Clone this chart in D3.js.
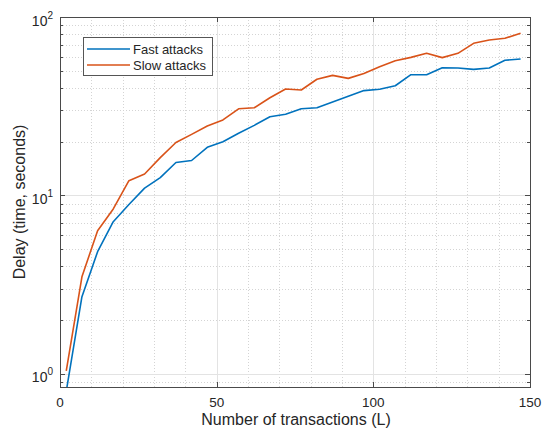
<!DOCTYPE html>
<html>
<head>
<meta charset="utf-8">
<script src="https://cdn.jsdelivr.net/npm/d3@7"></script>
<style>
  body { margin: 0; background: #fff; }
  svg { display: block; font-family: "Liberation Sans", Arial, sans-serif; }
</style>
</head>
<body>
<svg id="chart" width="544" height="433"></svg>
<script>
"use strict";

// number of transactions (x)
var transactions = [2, 7, 12, 17, 22, 27, 32, 37, 42, 47, 52, 57, 62, 67, 72,
                    77, 82, 87, 92, 97, 102, 107, 112, 117, 122, 127, 132, 137, 142, 147];

// delay in seconds
var fastAttacks = [0.8, 2.71, 4.84, 7.13, 8.9, 11.0, 12.6, 15.3, 15.7, 18.6, 20.0, 22.3, 24.7, 27.6, 28.5,
                   30.6, 31.0, 33.4, 36.0, 38.7, 39.4, 41.2, 47.5, 47.5, 52.0, 51.8, 50.9, 51.8, 57.2, 58.2];
var slowAttacks = [1.04, 3.5, 6.35, 8.4, 12.1, 13.2, 16.3, 19.8, 22.0, 24.5, 26.5, 30.6, 31.0, 35.3, 39.5,
                   39.0, 44.8, 47.1, 45.3, 48.3, 52.7, 56.9, 59.4, 62.6, 59.2, 62.6, 71.2, 74.3, 76.0, 81.1];

var xTicks = [0, 50, 100, 150];
var xMinor = [10, 20, 30, 40, 60, 70, 80, 90, 110, 120, 130, 140];
var yTicks = [1, 10, 100];
var yMinor = [0.9, 2, 3, 4, 5, 6, 7, 8, 9, 20, 30, 40, 50, 60, 70, 80, 90];

var seriesNames = ["Fast attacks", "Slow attacks"];
var seriesColors = ["#0072BD", "#D95319"];

var svg = d3.select("#chart");
var pLeft = 60, pRight = 530, pTop = 17, pBottom = 387;

var x = d3.scaleLinear().domain([0, 150]).range([pLeft, pRight]);
var y = d3.scaleLog().domain([0.845, 100]).range([pBottom, pTop]);

// grid
var grid = svg.append("g");
grid.selectAll(".xminor").data(xMinor).enter().append("line")
    .attr("x1", function(d) { return Math.round(x(d)) + 0.5; })
    .attr("x2", function(d) { return Math.round(x(d)) + 0.5; })
    .attr("y1", pTop).attr("y2", pBottom)
    .attr("stroke", "#d4d4d4").attr("stroke-dasharray", "1,2");
grid.selectAll(".yminor").data(yMinor).enter().append("line")
    .attr("y1", function(d) { return Math.round(y(d)) + 0.5; })
    .attr("y2", function(d) { return Math.round(y(d)) + 0.5; })
    .attr("x1", pLeft).attr("x2", pRight)
    .attr("stroke", "#d4d4d4").attr("stroke-dasharray", "1,2");
grid.selectAll(".xmajor").data([50, 100]).enter().append("line")
    .attr("x1", function(d) { return Math.round(x(d)) + 0.5; })
    .attr("x2", function(d) { return Math.round(x(d)) + 0.5; })
    .attr("y1", pTop).attr("y2", pBottom)
    .attr("stroke", "#e3e3e3");
grid.selectAll(".ymajor").data([1, 10]).enter().append("line")
    .attr("y1", function(d) { return Math.round(y(d)) + 0.5; })
    .attr("y2", function(d) { return Math.round(y(d)) + 0.5; })
    .attr("x1", pLeft).attr("x2", pRight)
    .attr("stroke", "#e3e3e3");

// lines
svg.append("clipPath").attr("id", "plotclip")
    .append("rect").attr("x", pLeft).attr("y", pTop)
    .attr("width", pRight - pLeft).attr("height", pBottom - pTop);

var line = d3.line()
    .x(function(d) { return x(d[0]); })
    .y(function(d) { return y(d[1]); });

[fastAttacks, slowAttacks].forEach(function(vals, i) {
    svg.append("path")
        .datum(d3.zip(transactions, vals))
        .attr("clip-path", "url(#plotclip)")
        .attr("fill", "none")
        .attr("stroke", seriesColors[i])
        .attr("stroke-width", 1.6)
        .attr("stroke-linejoin", "round")
        .attr("d", line);
});

// axes box
var axisColor = "#4a4a4a";
svg.append("rect")
    .attr("x", pLeft + 0.5).attr("y", pTop + 0.5)
    .attr("width", pRight - pLeft).attr("height", pBottom - pTop)
    .attr("fill", "none").attr("stroke", axisColor);

// ticks (inward)
var ticks = svg.append("g").attr("stroke", axisColor);
xTicks.forEach(function(d) {
    var px = Math.round(x(d)) + 0.5;
    ticks.append("line").attr("x1", px).attr("x2", px).attr("y1", pBottom).attr("y2", pBottom - 5);
    ticks.append("line").attr("x1", px).attr("x2", px).attr("y1", pTop).attr("y2", pTop + 5);
});
yTicks.forEach(function(d) {
    var py = Math.round(y(d)) + 0.5;
    ticks.append("line").attr("y1", py).attr("y2", py).attr("x1", pLeft).attr("x2", pLeft + 5);
    ticks.append("line").attr("y1", py).attr("y2", py).attr("x1", pRight).attr("x2", pRight - 5);
});
yMinor.forEach(function(d) {
    var py = Math.round(y(d)) + 0.5;
    ticks.append("line").attr("y1", py).attr("y2", py).attr("x1", pLeft).attr("x2", pLeft + 3);
    ticks.append("line").attr("y1", py).attr("y2", py).attr("x1", pRight).attr("x2", pRight - 3);
});

// tick labels
svg.selectAll(".xlab").data(xTicks).enter().append("text")
    .attr("x", function(d) { return x(d); })
    .attr("y", 407)
    .attr("text-anchor", "middle")
    .attr("font-size", 13.5)
    .attr("fill", "#262626")
    .text(function(d) { return d; });

yTicks.forEach(function(d) {
    var t = svg.append("text")
        .attr("x", 53)
        .attr("y", y(d) + 8.5)
        .attr("text-anchor", "end")
        .attr("font-size", 14)
        .attr("fill", "#262626");
    t.append("tspan").text("10");
    t.append("tspan").attr("dy", -7).attr("font-size", 10).text(Math.round(Math.log10(d)));
});

// axis titles
svg.append("text")
    .attr("x", (pLeft + pRight) / 2 + 1)
    .attr("y", 425)
    .attr("text-anchor", "middle")
    .attr("font-size", 16)
    .attr("fill", "#262626")
    .text("Number of transactions (L)");

svg.append("text")
    .attr("transform", "translate(25," + ((pTop + pBottom) / 2) + ") rotate(-90)")
    .attr("text-anchor", "middle")
    .attr("font-size", 16)
    .attr("fill", "#262626")
    .text("Delay (time, seconds)");

// legend
var legend = svg.append("g");
legend.append("rect")
    .attr("x", 83.5).attr("y", 37.5)
    .attr("width", 129).attr("height", 38)
    .attr("fill", "#fff").attr("stroke", "#555");
seriesNames.forEach(function(name, i) {
    var ly = 49 + i * 16;
    legend.append("line")
        .attr("x1", 87).attr("x2", 130)
        .attr("y1", ly).attr("y2", ly)
        .attr("stroke", seriesColors[i]).attr("stroke-width", 1.6);
    legend.append("text")
        .attr("x", 133).attr("y", ly + 4.5)
        .attr("font-size", 13)
        .attr("fill", "#262626")
        .text(name);
});
</script>
</body>
</html>
